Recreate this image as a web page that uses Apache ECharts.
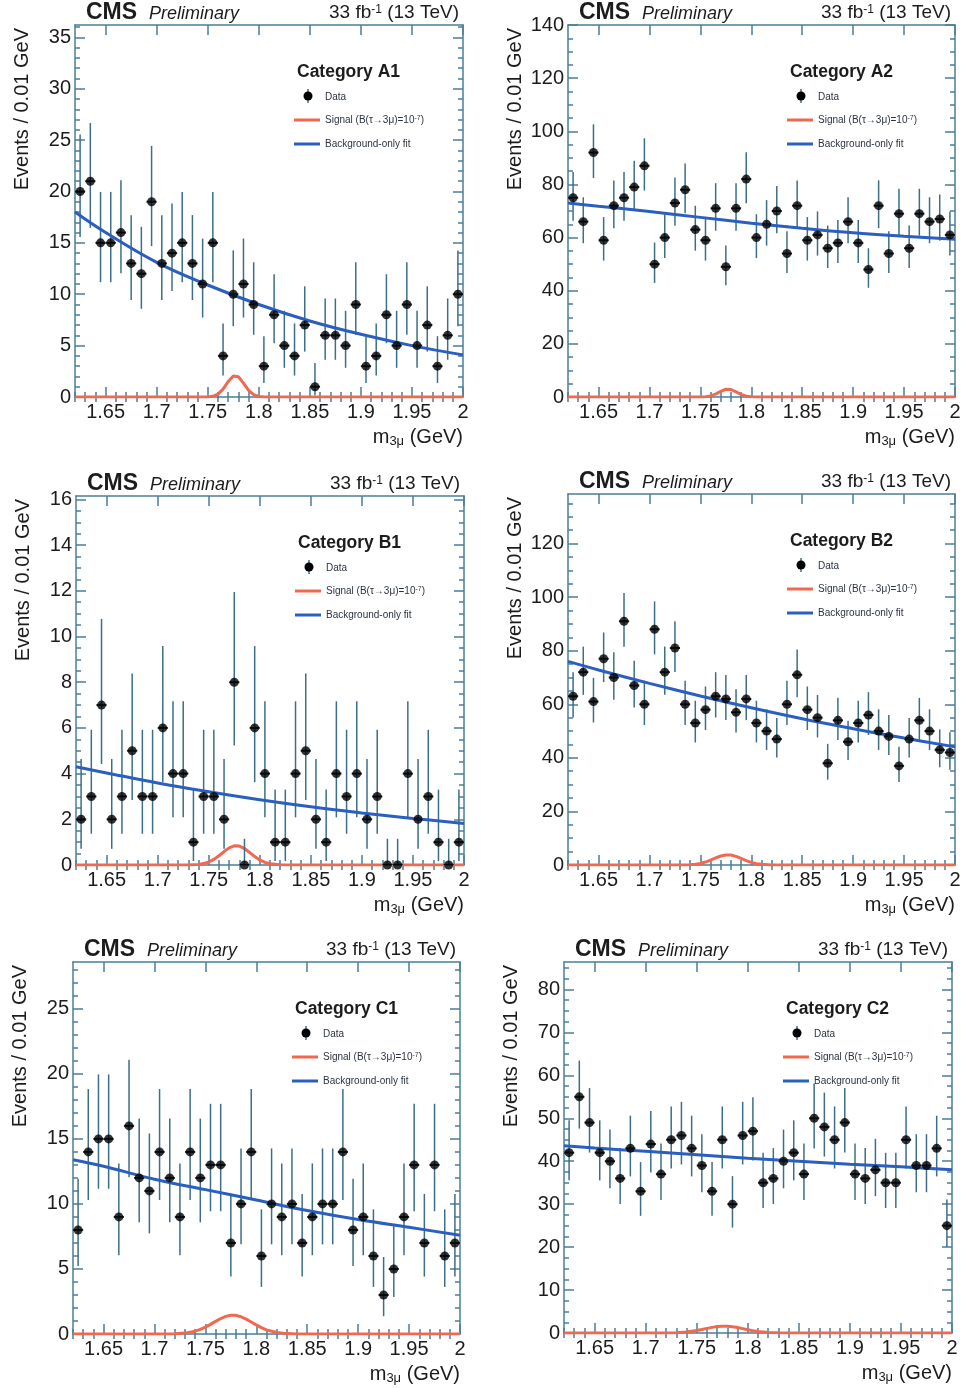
<!DOCTYPE html>
<html>
<head>
<meta charset="utf-8">
<title>CMS tau -> 3mu, m3mu distributions</title>
<script src="https://cdn.jsdelivr.net/npm/echarts@6/dist/echarts.min.js"></script>
<style>
  html, body { margin: 0; padding: 0; background: #fff; }
  #chart { width: 964px; height: 1388px; }
</style>
</head>
<body>
<div id="chart"></div>
<script>
// bin centres (0.01 GeV bins from 1.62 to 2.00)
const binCenters = [1.625, 1.635, 1.645, 1.655, 1.665, 1.675, 1.685, 1.695, 1.705, 1.715,
  1.725, 1.735, 1.745, 1.755, 1.765, 1.775, 1.785, 1.795, 1.805, 1.815,
  1.825, 1.835, 1.845, 1.855, 1.865, 1.875, 1.885, 1.895, 1.905, 1.915,
  1.925, 1.935, 1.945, 1.955, 1.965, 1.975, 1.985, 1.995];

// observed events per bin
const countsA1 = [20, 21, 15, 15, 16, 13, 12, 19, 13, 14, 15, 13, 11, 15, 4, 10, 11, 9, 3, 8, 5, 4, 7, 1, 6, 6, 5, 9, 3, 4, 8, 5, 9, 5, 7, 3, 6, 10];
const countsA2 = [75, 66, 92, 59, 72, 75, 79, 87, 50, 60, 73, 78, 63, 59, 71, 49, 71, 82, 60, 65, 70, 54, 72, 59, 61, 56, 58, 66, 58, 48, 72, 54, 69, 56, 69, 66, 67, 61];
const countsB1 = [2, 3, 7, 2, 3, 5, 3, 3, 6, 4, 4, 1, 3, 3, 2, 8, 0, 6, 4, 1, 1, 4, 5, 2, 1, 4, 3, 4, 2, 3, 0, 0, 4, 2, 3, 1, 0, 1];
const countsB2 = [63, 72, 61, 77, 70, 91, 67, 60, 88, 72, 81, 60, 53, 58, 63, 62, 57, 62, 53, 50, 47, 60, 71, 58, 55, 38, 54, 46, 53, 56, 50, 48, 37, 47, 54, 50, 43, 42];
const countsC1 = [8, 14, 15, 15, 9, 16, 12, 11, 14, 12, 9, 14, 12, 13, 13, 7, 10, 14, 6, 10, 9, 10, 7, 9, 10, 10, 14, 8, 9, 6, 3, 5, 9, 13, 7, 13, 6, 7];
const countsC2 = [42, 55, 49, 42, 40, 36, 43, 33, 44, 37, 45, 46, 43, 39, 33, 45, 30, 46, 47, 35, 36, 40, 42, 37, 50, 48, 45, 49, 37, 36, 38, 35, 35, 45, 39, 39, 43, 25];

// background-only fit
const fitX = [1.62, 1.65, 1.7, 1.75, 1.8, 1.85, 1.9, 1.95, 2.0];
const fitA1 = [18.0, 16.0, 13.1, 10.9, 9.0, 7.4, 6.1, 5.0, 4.1];
const fitA2 = [73.0, 71.8, 69.8, 67.6, 65.4, 63.5, 61.8, 60.5, 59.4];
const fitB1 = [4.30, 4.03, 3.59, 3.21, 2.86, 2.55, 2.28, 2.04, 1.82];
const fitB2 = [76.0, 72.8, 67.8, 63.1, 58.7, 54.6, 50.9, 47.4, 44.1];
const fitC1 = [13.4, 12.9, 11.9, 11.1, 10.3, 9.5, 8.8, 8.2, 7.6];
const fitC2 = [43.6, 43.1, 42.3, 41.5, 40.7, 40.0, 39.3, 38.7, 38.0];

// signal shape
const sigX = [1.62, 1.70, 1.71, 1.72, 1.73, 1.74, 1.745, 1.75, 1.755, 1.76, 1.765, 1.77, 1.775,
  1.78, 1.785, 1.79, 1.795, 1.80, 1.805, 1.81, 1.82, 1.83, 1.84, 1.85, 2.0];
const sigA1 = [0, 0, 0, 0, 0, 0, 0, 0.01, 0.07, 0.28, 0.77, 1.50, 2.04, 1.97, 1.35, 0.65, 0.22, 0.05, 0.01, 0, 0, 0, 0, 0, 0];
const sigA2 = [0, 0, 0, 0, 0, 0, 0, 0.02, 0.10, 0.40, 1.11, 2.14, 2.92, 2.82, 1.93, 0.93, 0.32, 0.08, 0.01, 0, 0, 0, 0, 0, 0];
const sigB1 = [0, 0, 0, 0, 0.003, 0.026, 0.062, 0.133, 0.247, 0.406, 0.589, 0.75, 0.84, 0.83, 0.72, 0.55, 0.37, 0.22, 0.115, 0.053, 0.008, 0, 0, 0, 0];
const sigB2 = [0, 0, 0, 0, 0.014, 0.114, 0.277, 0.593, 1.106, 1.816, 2.633, 3.35, 3.76, 3.71, 3.23, 2.47, 1.66, 0.98, 0.51, 0.24, 0.034, 0, 0, 0, 0];
const sigC1 = [0, 0, 0.003, 0.016, 0.068, 0.218, 0.351, 0.528, 0.742, 0.972, 1.188, 1.354, 1.441, 1.433, 1.327, 1.147, 0.925, 0.696, 0.49, 0.32, 0.112, 0.029, 0.006, 0, 0];
const sigC2 = [0, 0, 0.003, 0.018, 0.075, 0.24, 0.387, 0.582, 0.819, 1.072, 1.31, 1.494, 1.59, 1.581, 1.464, 1.266, 1.021, 0.768, 0.541, 0.354, 0.123, 0.032, 0.006, 0, 0];

// tick labels
const xTicks = [1.65, 1.7, 1.75, 1.8, 1.85, 1.9, 1.95, 2];
const yTicksA1 = [0, 5, 10, 15, 20, 25, 30, 35];
const yTicksA2 = [0, 20, 40, 60, 80, 100, 120, 140];
const yTicksB1 = [0, 2, 4, 6, 8, 10, 12, 14, 16];
const yTicksB2 = [0, 20, 40, 60, 80, 100, 120];
const yTicksC1 = [0, 5, 10, 15, 20, 25];
const yTicksC2 = [0, 10, 20, 30, 40, 50, 60, 70, 80];

const FONT = '"Liberation Sans", Arial, Helvetica, sans-serif';
const TXT = '#1c1c1c';
const FRAME = '#4b7e97';
const ERR = '#3c6f87';
const RED = '#f2684f';
const BLUE = '#2b5fbf';

const panels = [
  { name: 'A1', counts: countsA1, fit: fitA1, sig: sigA1, yTicks: yTicksA1, yMax: 36.2, yMinor: 1, box: [75, 25, 388, 372] },
  { name: 'A2', counts: countsA2, fit: fitA2, sig: sigA2, yTicks: yTicksA2, yMax: 140, yMinor: 5, box: [568, 25, 387, 372] },
  { name: 'B1', counts: countsB1, fit: fitB1, sig: sigB1, yTicks: yTicksB1, yMax: 16.15, yMinor: 0.5, box: [76, 496, 388, 369] },
  { name: 'B2', counts: countsB2, fit: fitB2, sig: sigB2, yTicks: yTicksB2, yMax: 138.5, yMinor: 5, box: [568, 494, 387, 371] },
  { name: 'C1', counts: countsC1, fit: fitC1, sig: sigC1, yTicks: yTicksC1, yMax: 28.6, yMinor: 1, box: [73, 962, 387, 372] },
  { name: 'C2', counts: countsC2, fit: fitC2, sig: sigC2, yTicks: yTicksC2, yMax: 86.4, yMinor: 2.5, box: [564, 962, 388, 371] }
];

// Poisson (Garwood) 68% intervals, as drawn for RooFit data points
const ALPHA = 0.158655;
function poisCdf(n, mu) {
  let p = Math.exp(-mu), s = p;
  for (let k = 1; k <= n; k++) { p *= mu / k; s += p; }
  return s;
}
function bisect(f, a, b) {
  for (let i = 0; i < 60; i++) {
    const m = (a + b) / 2;
    if (f(m) > 0) a = m; else b = m;
  }
  return (a + b) / 2;
}
function poisLow(n) {
  if (n === 0) return 0;
  return bisect(mu => ALPHA - (1 - poisCdf(n - 1, mu)), 0, n);
}
function poisHigh(n) {
  if (n === 0) return 1.148;
  return bisect(mu => poisCdf(n, mu) - ALPHA, n, n + 6 * Math.sqrt(n) + 6);
}

const xMinorTicks = [];
for (let k = 162; k <= 200; k++) if (k % 5) xMinorTicks.push(k / 100);

function minorTicks(p) {
  const major = p.yTicks[1] - p.yTicks[0];
  const out = [];
  for (let k = 1; k * p.yMinor < p.yMax; k++) {
    const v = Math.round(k * p.yMinor * 1000) / 1000;
    if (Math.abs(v / major - Math.round(v / major)) > 1e-6) out.push(v);
  }
  return out;
}

const xAxis = [], yAxis = [], grid = [], series = [], graphics = [];

function tickAxisStyle(len, values) {
  return { show: true, inside: true, length: len, customValues: values, lineStyle: { color: FRAME, width: 1.5 } };
}

panels.forEach((p, i) => {
  const [gx, gy, gw, gh] = p.box;
  grid.push({ left: gx, top: gy, width: gw, height: gh });
  const yMin = minorTicks(p);

  ['bottom', 'top'].forEach(pos => {
    xAxis.push({
      gridIndex: i, type: 'value', min: 1.62, max: 2, position: pos,
      axisLine: { show: true, onZero: false, lineStyle: { color: FRAME, width: 1.5 } },
      axisTick: tickAxisStyle(10, xTicks),
      axisLabel: { show: pos === 'bottom', customValues: xTicks, fontSize: 20, fontFamily: FONT, color: TXT, margin: 5 },
      splitLine: { show: false }
    });
    xAxis.push({
      gridIndex: i, type: 'value', min: 1.62, max: 2, position: pos,
      axisLine: { show: false }, axisTick: tickAxisStyle(5, xMinorTicks),
      axisLabel: { show: false }, splitLine: { show: false }
    });
  });
  ['left', 'right'].forEach(pos => {
    yAxis.push({
      gridIndex: i, type: 'value', min: 0, max: p.yMax, position: pos,
      axisLine: { show: true, onZero: false, lineStyle: { color: FRAME, width: 1.5 } },
      axisTick: tickAxisStyle(10, p.yTicks),
      axisLabel: { show: pos === 'left', customValues: p.yTicks, fontSize: 20, fontFamily: FONT, color: TXT, margin: 4 },
      splitLine: { show: false }
    });
    yAxis.push({
      gridIndex: i, type: 'value', min: 0, max: p.yMax, position: pos,
      axisLine: { show: false }, axisTick: tickAxisStyle(5, yMin),
      axisLabel: { show: false }, splitLine: { show: false }
    });
  });

  const xi = 4 * i, yi = 4 * i;
  series.push({
    type: 'line', xAxisIndex: xi, yAxisIndex: yi, z: 2,
    data: sigX.map((x, k) => [x, p.sig[k]]),
    showSymbol: false, lineStyle: { color: RED, width: 3 }, clip: true, silent: true
  });
  series.push({
    type: 'custom', xAxisIndex: xi, yAxisIndex: yi, z: 3,
    data: p.counts.map((n, k) => [binCenters[k], n, poisLow(n), poisHigh(n)]),
    encode: { x: 0, y: 1 },
    clip: true,
    renderItem: (params, api) => {
      const x = api.value(0), y = api.value(1);
      const lo = api.coord([x, api.value(2)]), hi = api.coord([x, api.value(3)]);
      const l = api.coord([x - 0.005, y]), r = api.coord([x + 0.005, y]);
      return {
        type: 'group', children: [
          { type: 'line', shape: { x1: lo[0], y1: lo[1], x2: hi[0], y2: hi[1] }, style: { stroke: ERR, lineWidth: 1.5 } },
          { type: 'line', shape: { x1: l[0], y1: l[1], x2: r[0], y2: r[1] }, style: { stroke: '#1a2a33', lineWidth: 2 } }
        ]
      };
    }
  });
  series.push({
    type: 'line', xAxisIndex: xi, yAxisIndex: yi, z: 4,
    data: fitX.map((x, k) => [x, p.fit[k]]),
    smooth: 0.4, showSymbol: false, lineStyle: { color: BLUE, width: 3 }, silent: true
  });
  series.push({
    type: 'scatter', xAxisIndex: xi, yAxisIndex: yi, z: 5,
    data: p.counts.map((n, k) => [binCenters[k], n]),
    symbol: 'circle', symbolSize: 9, itemStyle: { color: '#000' }, clip: false, silent: true
  });

  // header
  graphics.push({ type: 'text', x: gx + 11, y: gy - 12,
    style: { text: 'CMS', fontSize: 23, fontWeight: 'bold', fontFamily: FONT, fill: TXT, verticalAlign: 'middle' } });
  graphics.push({ type: 'text', x: gx + 74, y: gy - 11,
    style: { text: 'Preliminary', fontSize: 18, fontStyle: 'italic', fontFamily: FONT, fill: TXT, verticalAlign: 'middle' } });
  graphics.push({ type: 'text', x: gx + gw - 4, y: gy - 12,
    style: {
      text: '{n|33 fb}{s|-1}{n| (13 TeV)}', align: 'right', verticalAlign: 'middle',
      rich: {
        n: { fontSize: 19, fontFamily: FONT, fill: TXT },
        s: { fontSize: 12, fontFamily: FONT, fill: TXT, verticalAlign: 'top' }
      }
    } });
  // axis titles
  graphics.push({ type: 'text', x: gx - 53, y: gy + 3, rotation: Math.PI / 2,
    style: { text: 'Events / 0.01 GeV', fontSize: 20, fontFamily: FONT, fill: TXT, align: 'right', verticalAlign: 'middle' } });
  graphics.push({ type: 'text', x: gx + gw, y: gy + gh + 40,
    style: {
      text: '{n|m}{b|3μ}{n| (GeV)}', align: 'right', verticalAlign: 'middle',
      rich: {
        n: { fontSize: 20, fontFamily: FONT, fill: TXT, lineHeight: 22 },
        b: { fontSize: 13, fontFamily: FONT, fill: TXT, verticalAlign: 'bottom', lineHeight: 12 }
      }
    } });
  // legend
  const lx = gx + 222, ly = gy + 47;
  graphics.push({ type: 'text', x: lx, y: ly,
    style: { text: 'Category ' + p.name, fontSize: 17.5, fontWeight: 'bold', fontFamily: FONT, fill: TXT, verticalAlign: 'middle' } });
  graphics.push({ type: 'line', shape: { x1: lx + 11, y1: ly + 17, x2: lx + 11, y2: ly + 31 }, style: { stroke: ERR, lineWidth: 1.5 } });
  graphics.push({ type: 'circle', shape: { cx: lx + 11, cy: ly + 24, r: 4.5 }, style: { fill: '#000' } });
  graphics.push({ type: 'text', x: lx + 28, y: ly + 25,
    style: { text: 'Data', fontSize: 10, fontFamily: FONT, fill: '#2b3440', verticalAlign: 'middle' } });
  graphics.push({ type: 'line', shape: { x1: lx - 3, y1: ly + 48, x2: lx + 23, y2: ly + 48 }, style: { stroke: RED, lineWidth: 3 } });
  graphics.push({ type: 'text', x: lx + 28, y: ly + 48,
    style: {
      text: '{t|Signal (B(τ→3μ)=10}{s|-7}{t|)}', verticalAlign: 'middle',
      rich: {
        t: { fontSize: 10, fontFamily: FONT, fill: '#2b3440' },
        s: { fontSize: 7, fontFamily: FONT, fill: '#2b3440', verticalAlign: 'top' }
      }
    } });
  graphics.push({ type: 'line', shape: { x1: lx - 3, y1: ly + 72, x2: lx + 23, y2: ly + 72 }, style: { stroke: BLUE, lineWidth: 3 } });
  graphics.push({ type: 'text', x: lx + 28, y: ly + 72,
    style: { text: 'Background-only fit', fontSize: 10, fontFamily: FONT, fill: '#2b3440', verticalAlign: 'middle' } });
});

const chart = echarts.init(document.getElementById('chart'), null, { renderer: 'canvas' });
chart.setOption({
  animation: false,
  backgroundColor: '#fff',
  grid: grid,
  xAxis: xAxis,
  yAxis: yAxis,
  series: series,
  graphic: { elements: graphics }
});
</script>
</body>
</html>
